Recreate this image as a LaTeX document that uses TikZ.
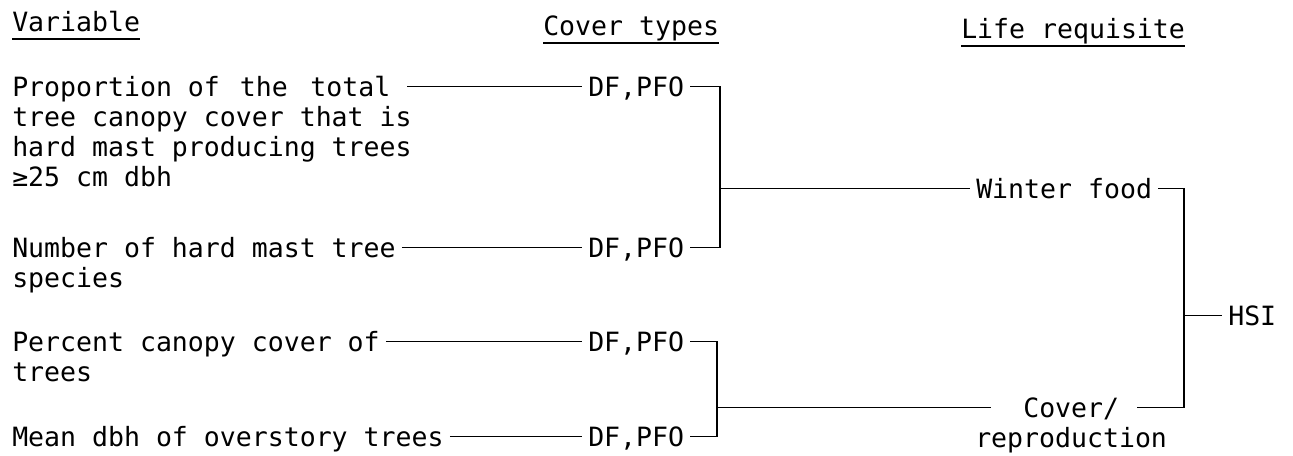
\documentclass[tikz,border=0pt]{standalone}
\usepackage{fontspec}
\newfontfamily\tw{DejaVu Sans Mono}
\begin{document}
\begin{tikzpicture}[x=0.75pt,y=-0.75pt,
  txt/.style={font=\tw\fontsize{19.9pt}{22.5pt}\selectfont, inner xsep=4.5pt, inner ysep=0pt,
              text height=14.5pt, text depth=0pt, anchor=base west},
  link/.style={line width=1.1pt},
  uline/.style={line width=1.1pt}]
\useasboundingbox (0,0) rectangle (1293,455);

% headers
\node[txt] (hv) at (6,31) {Variable};
\node[txt] (hc) at (537,35) {Cover types};
\node[txt] (hl) at (955,38) {Life requisite};
\foreach \h in {hv,hc,hl}
  \draw[uline] ([xshift=4.5pt,yshift=-6pt]\h.base west) -- ([xshift=-4.5pt,yshift=-6pt]\h.base east);

% variables
\node[txt] (v1)  at (6,96)  {Proportion of\hspace{3pt} the\hspace{5pt} total};
\node[txt] (v1b) at (6,126) {tree canopy cover that is};
\node[txt] (v1c) at (6,156) {hard mast producing trees};
\node[txt] (v1d) at (6,186) {≥25 cm dbh};
\node[txt] (v2)  at (6,257) {Number of hard mast tree};
\node[txt] (v2b) at (6,287) {species};
\node[txt] (v3)  at (6,351) {Percent canopy cover of};
\node[txt] (v3b) at (6,381) {trees};
\node[txt] (v4)  at (6,446) {Mean dbh of overstory trees};

% cover types
\node[txt] (c1) at (582,96)  {DF,PFO};
\node[txt] (c2) at (582,257) {DF,PFO};
\node[txt] (c3) at (582,351) {DF,PFO};
\node[txt] (c4) at (582,446) {DF,PFO};

% life requisites
\node[txt] (wf)  at (970,198) {Winter food};
\node[txt] (cv1) at (1017,417) {Cover/};
\node[txt] (cv2) at (969,447) {reproduction};
\node[txt] (hsi) at (1222,325) {HSI};

% junction columns
\coordinate (j1x) at (720,0);
\coordinate (j2x) at (717,0);
\coordinate (j3x) at (1184,0);
\coordinate (j1) at (wf.west -| j1x);
\coordinate (j2) at (cv1.west -| j2x);
\coordinate (j3) at (hsi.west -| j3x);

% connectors
\draw[link, shorten <=8pt] (v1.east) -- (c1.west);
\draw[link] (v2.east) -- (c2.west);
\draw[link] (v3.east) -- (c3.west);
\draw[link] (v4.east) -- (c4.west);

\draw[link] (c1.east) -| (j1) |- (c2.east);
\draw[link] (j1) -- (wf.west);

\draw[link] (c3.east) -| (j2) |- (c4.east);
\draw[link, shorten >=19.5pt] (j2) -- (cv1.west);

\draw[link, shorten >=9pt] (wf.east) -| (j3) |- (cv1.east);
\draw[link] (j3) -- (hsi.west);
\end{tikzpicture}
\end{document}
